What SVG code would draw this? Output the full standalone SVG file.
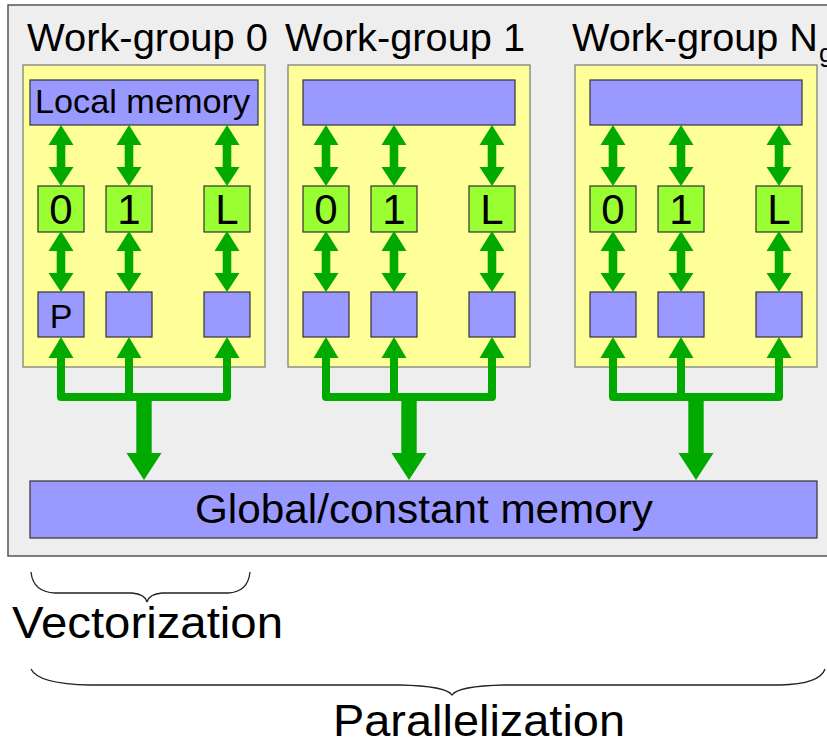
<svg xmlns="http://www.w3.org/2000/svg" xmlns:xlink="http://www.w3.org/1999/xlink" width="827" height="742" viewBox="0 0 827 742">
<style>
text{font-family:"Liberation Sans",Arial,sans-serif;fill:#000}
.wg{fill:#ffff99;stroke:#777;stroke-width:1.2}
.mem{fill:#9999ff;stroke:#333;stroke-width:1.2}
.pe{fill:#99ff33;stroke:#333;stroke-width:1.2}
.arr{fill:#00aa00;stroke:none}
.bus{fill:none;stroke:#00aa00;stroke-width:8;stroke-linejoin:round;stroke-linecap:round}
.brace{fill:none;stroke:#222;stroke-width:1.3}
.title{font-size:39px}
.num{font-size:42px}
</style>
<defs>
<path id="dbl" class="arr" d="M0,0 L12.5,20 L4.3,20 L4.3,42 L12.5,42 L0,61 L-12.5,42 L-4.3,42 L-4.3,20 L-12.5,20 Z"/>
<path id="up" class="arr" d="M0,0 L12.5,21 L-12.5,21 Z"/>
<path id="big" class="arr" d="M-7.7,0 H7.7 V56 H17.5 L0,83 L-17.5,56 H-7.7 Z"/>
</defs>

<rect id="outer" x="8" y="5" width="830" height="551" fill="#eeeeee" stroke="#555" stroke-width="1.5"/>

<g id="wg0">
<rect class="wg" x="23" y="65" width="242" height="302"/>
<text class="title" x="27" y="51" textLength="241" lengthAdjust="spacingAndGlyphs">Work-group 0</text>
</g>
<g id="wg1">
<rect class="wg" x="288" y="65" width="242" height="302"/>
<text class="title" x="285" y="51" textLength="240" lengthAdjust="spacingAndGlyphs">Work-group 1</text>
</g>
<g id="wgN">
<rect class="wg" x="575" y="65" width="242" height="302"/>
<text class="title" x="572" y="51" textLength="246" lengthAdjust="spacingAndGlyphs">Work-group N</text>
<text x="819" y="62" font-size="26">g</text>
</g>

<g id="local0"><rect class="mem" x="30" y="80" width="228" height="45"/><text x="35" y="113" font-size="33" textLength="215" lengthAdjust="spacingAndGlyphs">Local memory</text></g>
<g id="local1"><rect class="mem" x="303" y="80" width="212" height="45"/></g>
<g id="localN"><rect class="mem" x="590" y="80" width="212" height="45"/></g>

<g id="pe0_0"><rect class="pe" x="38" y="186" width="46" height="46"/><text class="num" x="61" y="224" text-anchor="middle">0</text></g>
<g id="pe0_1"><rect class="pe" x="106" y="186" width="46" height="46"/><text class="num" x="129" y="224" text-anchor="middle">1</text></g>
<g id="pe0_L"><rect class="pe" x="204" y="186" width="46" height="46"/><text class="num" x="227" y="224" text-anchor="middle">L</text></g>
<g id="pe1_0"><rect class="pe" x="303" y="186" width="46" height="46"/><text class="num" x="326" y="224" text-anchor="middle">0</text></g>
<g id="pe1_1"><rect class="pe" x="371" y="186" width="46" height="46"/><text class="num" x="394" y="224" text-anchor="middle">1</text></g>
<g id="pe1_L"><rect class="pe" x="469" y="186" width="46" height="46"/><text class="num" x="492" y="224" text-anchor="middle">L</text></g>
<g id="peN_0"><rect class="pe" x="590" y="186" width="46" height="46"/><text class="num" x="613" y="224" text-anchor="middle">0</text></g>
<g id="peN_1"><rect class="pe" x="658" y="186" width="46" height="46"/><text class="num" x="681" y="224" text-anchor="middle">1</text></g>
<g id="peN_L"><rect class="pe" x="756" y="186" width="46" height="46"/><text class="num" x="779" y="224" text-anchor="middle">L</text></g>

<g id="pm0_0"><rect class="mem" x="38" y="292" width="46" height="45"/><text x="61" y="328" font-size="34" text-anchor="middle">P</text></g>
<g id="pm0_1"><rect class="mem" x="106" y="292" width="46" height="45"/></g>
<g id="pm0_L"><rect class="mem" x="204" y="292" width="46" height="45"/></g>
<g id="pm1_0"><rect class="mem" x="303" y="292" width="46" height="45"/></g>
<g id="pm1_1"><rect class="mem" x="371" y="292" width="46" height="45"/></g>
<g id="pm1_L"><rect class="mem" x="469" y="292" width="46" height="45"/></g>
<g id="pmN_0"><rect class="mem" x="590" y="292" width="46" height="45"/></g>
<g id="pmN_1"><rect class="mem" x="658" y="292" width="46" height="45"/></g>
<g id="pmN_L"><rect class="mem" x="756" y="292" width="46" height="45"/></g>

<g id="global"><rect class="mem" x="30" y="481" width="787" height="57"/><text x="195" y="523" font-size="40" textLength="458" lengthAdjust="spacingAndGlyphs">Global/constant memory</text></g>

<g id="connectors">
<use xlink:href="#dbl" x="61" y="125"/><use xlink:href="#dbl" x="129" y="125"/><use xlink:href="#dbl" x="227" y="125"/>
<use xlink:href="#dbl" x="326" y="125"/><use xlink:href="#dbl" x="394" y="125"/><use xlink:href="#dbl" x="492" y="125"/>
<use xlink:href="#dbl" x="613" y="125"/><use xlink:href="#dbl" x="681" y="125"/><use xlink:href="#dbl" x="779" y="125"/>
<use xlink:href="#dbl" x="61" y="231"/><use xlink:href="#dbl" x="129" y="231"/><use xlink:href="#dbl" x="227" y="231"/>
<use xlink:href="#dbl" x="326" y="231"/><use xlink:href="#dbl" x="394" y="231"/><use xlink:href="#dbl" x="492" y="231"/>
<use xlink:href="#dbl" x="613" y="231"/><use xlink:href="#dbl" x="681" y="231"/><use xlink:href="#dbl" x="779" y="231"/>
<path class="bus" d="M61,356 V397 H227 V356 M129,356 V397"/>
<path class="bus" d="M326,356 V397 H492 V356 M394,356 V397"/>
<path class="bus" d="M613,356 V397 H779 V356 M681,356 V397"/>
<use xlink:href="#up" x="61" y="337"/><use xlink:href="#up" x="129" y="337"/><use xlink:href="#up" x="227" y="337"/>
<use xlink:href="#up" x="326" y="337"/><use xlink:href="#up" x="394" y="337"/><use xlink:href="#up" x="492" y="337"/>
<use xlink:href="#up" x="613" y="337"/><use xlink:href="#up" x="681" y="337"/><use xlink:href="#up" x="779" y="337"/>
<use xlink:href="#big" x="144" y="397"/>
<use xlink:href="#big" x="409" y="397"/>
<use xlink:href="#big" x="696" y="397"/>
</g>

<g id="vectorization">
<path class="brace" d="M31,572 Q33,592 55,593 H132 Q145,594 147,602 Q149,594 162,593 H228 Q248,592 250,572"/>
<text x="12" y="638" font-size="45" textLength="271" lengthAdjust="spacingAndGlyphs">Vectorization</text>
</g>
<g id="parallelization">
<path class="brace" d="M31,669 Q38,684 90,685 H400 Q446,686 452,695 Q458,686 504,685 H780 Q820,684 825,669"/>
<text x="333" y="736" font-size="45" textLength="292" lengthAdjust="spacingAndGlyphs">Parallelization</text>
</g>
</svg>
